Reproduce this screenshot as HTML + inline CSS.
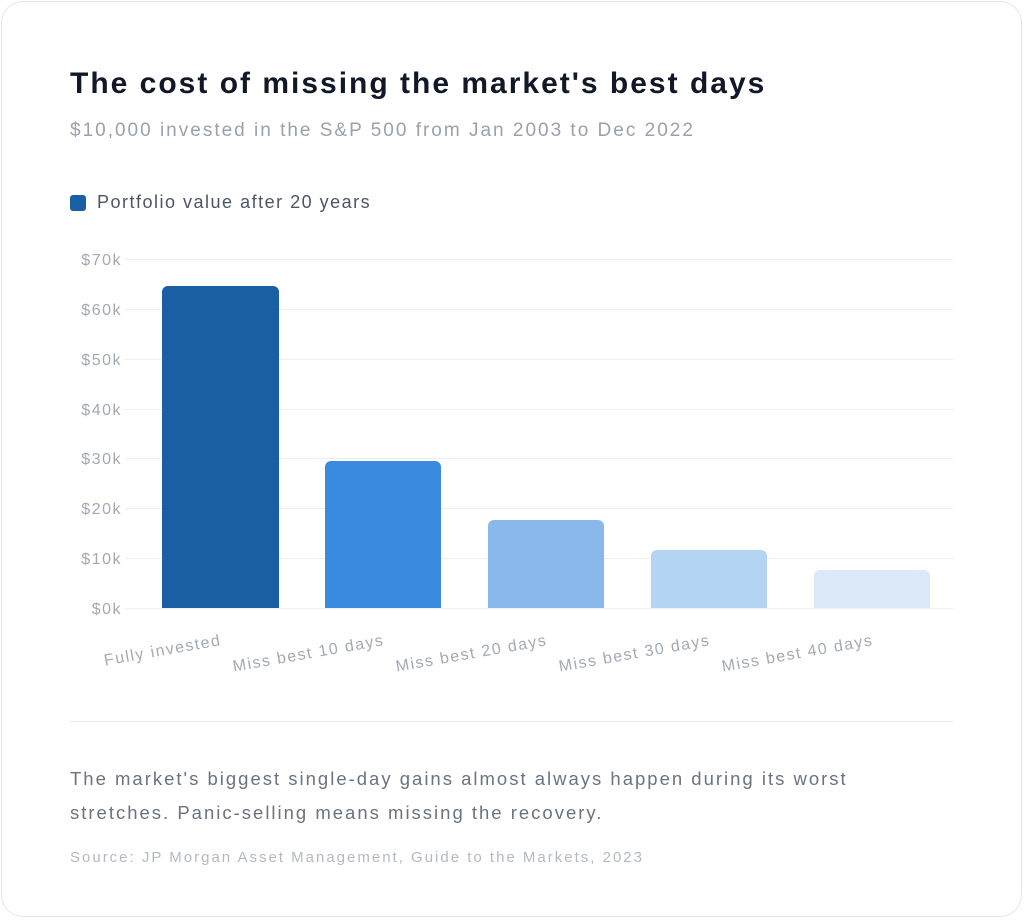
<!DOCTYPE html>
<html><head><style>
html,body{margin:0;padding:0;background:#fff;}
body{width:1024px;height:920px;position:relative;font-family:"Liberation Sans",sans-serif;overflow:hidden}
.card{position:absolute;left:1px;top:1px;width:1019px;height:914px;border:1.5px solid #e3e6ee;border-radius:22px;background:#fff}
.t{position:absolute;left:70px;white-space:nowrap}
</style></head><body>
<div class="card"></div>
<div class="t" style="top:67px;font-size:30px;letter-spacing:2px;font-weight:bold;color:#111827">The cost of missing the market's best days</div>
<div class="t" style="top:120px;font-size:19px;letter-spacing:2px;color:#9aa1ad">$10,000 invested in the S&amp;P 500 from Jan 2003 to Dec 2022</div>
<div style="position:absolute;left:70px;top:195px;width:16px;height:16px;border-radius:3px;background:#1a5ea3"></div>
<div class="t" style="left:97px;top:192px;font-size:18px;letter-spacing:1.5px;color:#4b5563">Portfolio value after 20 years</div>
<svg width="1024" height="920" style="position:absolute;left:0;top:0" font-family="Liberation Sans, sans-serif">
<g stroke="#eceef2" stroke-width="1">
<line x1="125" x2="953" y1="259.5" y2="259.5"/><line x1="125" x2="953" y1="309.5" y2="309.5"/>
<line x1="125" x2="953" y1="359.5" y2="359.5"/><line x1="125" x2="953" y1="409.5" y2="409.5"/>
<line x1="125" x2="953" y1="458.5" y2="458.5"/><line x1="125" x2="953" y1="508.5" y2="508.5"/>
<line x1="125" x2="953" y1="558.5" y2="558.5"/><line x1="125" x2="953" y1="608.5" y2="608.5"/>
</g>
<g font-size="16" letter-spacing="1.5" fill="#a3a9b3" text-anchor="end">
<text x="122" y="265">$70k</text><text x="122" y="315">$60k</text><text x="122" y="365">$50k</text>
<text x="122" y="415">$40k</text><text x="122" y="464">$30k</text><text x="122" y="514">$20k</text>
<text x="122" y="564">$10k</text><text x="122" y="614">$0k</text>
</g>
<path d="M162,608V292a6,6 0 0 1 6,-6H273a6,6 0 0 1 6,6V608Z" fill="#1a5ea3"/>
<path d="M325,608V467a6,6 0 0 1 6,-6H435a6,6 0 0 1 6,6V608Z" fill="#3a8ae0"/>
<path d="M488,608V526a6,6 0 0 1 6,-6H598a6,6 0 0 1 6,6V608Z" fill="#89b9ec"/>
<path d="M651,608V556a6,6 0 0 1 6,-6H761a6,6 0 0 1 6,6V608Z" fill="#b4d4f3"/>
<path d="M814,608V576a6,6 0 0 1 6,-6H924a6,6 0 0 1 6,6V608Z" fill="#dce9f8"/>
<g font-size="16" letter-spacing="1.5" fill="#a3a9b3" text-anchor="end">
<text transform="translate(222,645) rotate(-10)">Fully invested</text>
<text transform="translate(385,645) rotate(-10)">Miss best 10 days</text>
<text transform="translate(548,645) rotate(-10)">Miss best 20 days</text>
<text transform="translate(711,645) rotate(-10)">Miss best 30 days</text>
<text transform="translate(874,645) rotate(-10)">Miss best 40 days</text>
</g>
<line x1="70" x2="953" y1="721.5" y2="721.5" stroke="#e8eaef"/>
</svg>
<div class="t" style="top:762px;font-size:18.5px;letter-spacing:2px;line-height:34px;color:#6b7280">The market's biggest single-day gains almost always happen during its worst<br>stretches. Panic-selling means missing the recovery.</div>
<div class="t" style="top:849px;font-size:15px;letter-spacing:2px;color:#b3b9c3">Source: JP Morgan Asset Management, Guide to the Markets, 2023</div>
</body></html>
